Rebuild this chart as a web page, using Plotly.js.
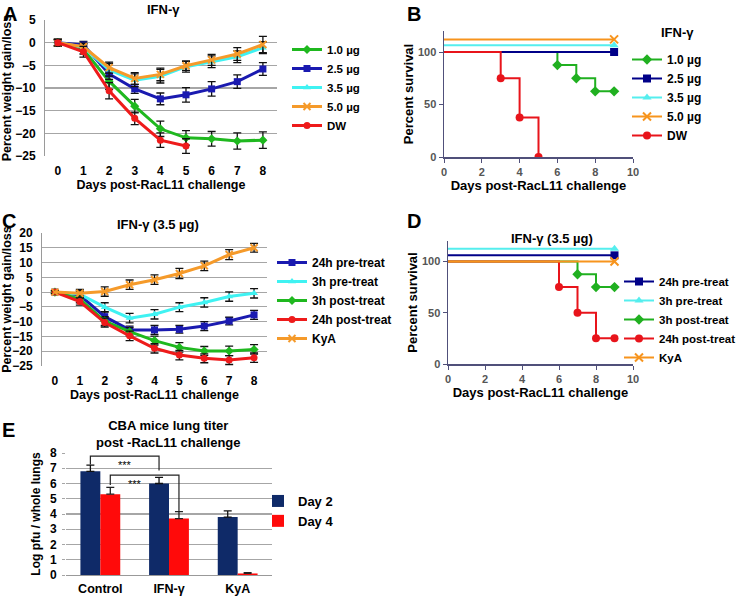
<!DOCTYPE html>
<html>
<head>
<meta charset="utf-8">
<script src="https://cdn.plot.ly/plotly-3.0.1.min.js"></script>
<style>html,body{margin:0;padding:0;background:#fff;}#chart{width:740px;height:596px;}</style>
</head>
<body>
<div id="chart"></div>
<script>
// ---------- DATA ----------
const days = [0, 1, 2, 3, 4, 5, 6, 7, 8];

// Panel A: weight change by IFN-γ dose
const aNames = ['1.0 µg', '2.5 µg', '3.5 µg', '5.0 µg', 'DW'];
const a_10 = [0, -1.5, -8.5, -14.0, -19.0, -21.0, -21.2, -21.7, -21.5];
const a_10_err = [0.7, 1.0, 1.8, 1.5, 1.7, 1.6, 1.6, 1.8, 1.8];
const a_25 = [0, -0.5, -6.9, -10.2, -12.4, -11.5, -10.2, -8.6, -5.8];
const a_25_err = [0.7, 0.8, 1.2, 1.0, 1.3, 1.6, 1.6, 1.5, 1.4];
const a_35 = [0, -1.0, -6.0, -8.3, -7.4, -5.3, -4.2, -3.1, -1.1];
const a_35_err = [0.7, 0.8, 1.4, 1.4, 1.5, 1.2, 1.3, 1.3, 1.3];
const a_50 = [0, -0.9, -5.5, -7.9, -7.0, -5.1, -3.8, -2.5, -0.4];
const a_50_err = [0.7, 0.8, 1.2, 1.3, 1.4, 1.0, 1.2, 1.4, 1.8];
const a_dw = [0, -2.0, -10.6, -16.7, -21.5, -22.8];
const a_dw_err = [0.7, 1.2, 1.8, 1.4, 1.6, 1.6];

// Panel B: survival by dose
const b10_x = [0, 6, 7, 8, 9];      const b10_y = [100, 87.5, 75, 62.5, 62.5];
const b25_x = [0, 9];               const b25_y = [100, 100];
const b35_x = [0, 9];               const b35_y = [106.5, 106.5];
const b50_x = [0, 9];               const b50_y = [112, 112];
const bdw_x = [0, 3, 4, 5];         const bdw_y = [100, 75, 37.5, 0];

// Panel C: weight change by timing (3.5 µg)
const cNames = ['24h pre-treat', '3h pre-treat', '3h post-treat', '24h post-treat', 'KyA'];
const c_24pre = [0, -1.0, -8.3, -12.8, -12.8, -12.6, -11.5, -9.8, -7.7];
const c_24pre_err = [0.5, 1.2, 1.5, 1.3, 1.5, 1.3, 1.5, 1.3, 1.5];
const c_3pre = [0, -0.7, -5.1, -8.8, -7.5, -5.1, -3.5, -1.5, -0.4];
const c_3pre_err = [0.5, 1.2, 1.5, 1.6, 1.6, 1.5, 1.6, 1.6, 1.6];
const c_3post = [0, -2.4, -9.8, -13.4, -16.4, -18.7, -19.9, -19.9, -19.4];
const c_3post_err = [0.5, 1.2, 1.5, 1.4, 1.5, 1.6, 1.5, 1.6, 1.6];
const c_24post = [0, -3.2, -10.3, -14.8, -19.0, -21.3, -22.4, -23.0, -22.2];
const c_24post_err = [0.5, 1.2, 1.5, 1.6, 1.6, 1.6, 1.5, 1.5, 1.6];
const c_kya = [0, -0.4, 0.2, 2.5, 4.2, 6.3, 8.9, 12.7, 15.0];
const c_kya_err = [0.5, 1.3, 1.6, 1.6, 1.6, 1.7, 1.6, 1.7, 1.5];

// Panel D: survival by timing
const d24pre_x = [0, 9];            const d24pre_y = [106, 106];
const d3pre_x = [0, 9];             const d3pre_y = [112.5, 112.5];
const d3post_x = [0, 7, 8, 9];      const d3post_y = [100, 87.5, 75, 75];
const d24post_x = [0, 6, 7, 8, 9];  const d24post_y = [100, 75, 50, 25, 25];
const dkya_x = [0, 9];              const dkya_y = [100, 100];

// Panel E: lung titer
const eCats = ['Control', 'IFN-γ', 'KyA'];
const eDay2 = [6.8, 6.0, 3.8];
const eDay2_err = [0.4, 0.4, 0.4];
const eDay4 = [5.3, 3.7, 0.1];
const eDay4_err = [0.45, 0.45, 0.05];

// ---------- STYLE ----------
const W = 740, H = 596;
const px = v => v / W;
const py = v => 1 - v / H;
const FONT = 'Liberation Sans, Arial, sans-serif';
const col = {green: '#1fb81f', blue: '#1a1ab0', cyan: '#3ff2f2', orange: '#f59a2a', red: '#ee1b1b'};
const scol = {green: '#20b020', blue: '#000088', cyan: '#55eeee', orange: '#f7941d', red: '#e8141b'};

function wtTrace(x, y, err, name, color, symbol, xa, ya, lg) {
  return {
    type: 'scatter', mode: 'lines+markers', x: x, y: y, name: name,
    xaxis: xa, yaxis: ya, legend: lg,
    line: {color: color, width: 3},
    marker: {color: color, symbol: symbol, size: 7,
             line: {color: color, width: symbol === 'x-thin-open' ? 2 : 0}},
    error_y: {type: 'data', array: err, visible: true, color: '#111', thickness: 1.3, width: 4}
  };
}
function survTrace(x, y, name, color, symbol, xa, ya, lg, rank) {
  // the starting point (day 0) carries no symbol
  const shown = x.map((v, i) => i).filter(i => i > 0);
  return {
    type: 'scatter', mode: 'lines+markers', x: x, y: y, name: name,
    xaxis: xa, yaxis: ya, legend: lg, legendrank: rank,
    line: {color: color, width: 2, shape: 'hv'},
    marker: {color: color, symbol: symbol, size: 8,
             line: {color: color, width: symbol === 'x-thin-open' ? 2 : 0}},
    selectedpoints: shown,
    selected: {marker: {opacity: 1}},
    unselected: {marker: {opacity: 0}}
  };
}

const data = [
  wtTrace(days, a_10, a_10_err, aNames[0], col.green, 'diamond', 'x', 'y', 'legend'),
  wtTrace(days, a_25, a_25_err, aNames[1], col.blue, 'square', 'x', 'y', 'legend'),
  wtTrace(days, a_35, a_35_err, aNames[2], col.cyan, 'triangle-up', 'x', 'y', 'legend'),
  wtTrace(days, a_50, a_50_err, aNames[3], col.orange, 'x-thin-open', 'x', 'y', 'legend'),
  wtTrace(days.slice(0, a_dw.length), a_dw, a_dw_err, aNames[4], col.red, 'circle', 'x', 'y', 'legend'),

  survTrace(b10_x, b10_y, aNames[0], scol.green, 'diamond', 'x2', 'y2', 'legend2', 1),
  survTrace(b25_x, b25_y, aNames[1], scol.blue, 'square', 'x2', 'y2', 'legend2', 2),
  survTrace(b35_x, b35_y, aNames[2], scol.cyan, 'triangle-up', 'x2', 'y2', 'legend2', 3),
  survTrace(b50_x, b50_y, aNames[3], scol.orange, 'x-thin-open', 'x2', 'y2', 'legend2', 4),
  survTrace(bdw_x, bdw_y, aNames[4], scol.red, 'circle', 'x2', 'y2', 'legend2', 5),

  wtTrace(days, c_24pre, c_24pre_err, cNames[0], col.blue, 'square', 'x3', 'y3', 'legend3'),
  wtTrace(days, c_3pre, c_3pre_err, cNames[1], col.cyan, 'triangle-up', 'x3', 'y3', 'legend3'),
  wtTrace(days, c_3post, c_3post_err, cNames[2], col.green, 'diamond', 'x3', 'y3', 'legend3'),
  wtTrace(days, c_24post, c_24post_err, cNames[3], col.red, 'circle', 'x3', 'y3', 'legend3'),
  wtTrace(days, c_kya, c_kya_err, cNames[4], col.orange, 'x-thin-open', 'x3', 'y3', 'legend3'),

  survTrace(d3post_x, d3post_y, cNames[2], scol.green, 'diamond', 'x4', 'y4', 'legend4', 3),
  survTrace(d24post_x, d24post_y, cNames[3], scol.red, 'circle', 'x4', 'y4', 'legend4', 4),
  survTrace(d24pre_x, d24pre_y, cNames[0], scol.blue, 'square', 'x4', 'y4', 'legend4', 1),
  survTrace(d3pre_x, d3pre_y, cNames[1], scol.cyan, 'triangle-up', 'x4', 'y4', 'legend4', 2),
  survTrace(dkya_x, dkya_y, cNames[4], scol.orange, 'x-thin-open', 'x4', 'y4', 'legend4', 5),

  {type: 'bar', x: eCats, y: eDay2, name: 'Day 2', xaxis: 'x5', yaxis: 'y5', legend: 'legend5',
   marker: {color: '#0f2a68'},
   error_y: {type: 'data', symmetric: false, array: eDay2_err, arrayminus: eDay2_err.map(() => 0),
             color: '#111', thickness: 1.3, width: 4}},
  {type: 'bar', x: eCats, y: eDay4, name: 'Day 4', xaxis: 'x5', yaxis: 'y5', legend: 'legend5',
   marker: {color: '#ff0a0a'},
   error_y: {type: 'data', symmetric: false, array: eDay4_err, arrayminus: eDay4_err.map(() => 0),
             color: '#222', thickness: 1.3, width: 4}}
];

const weightY = (dom, range, dtick, anchor) => ({
  domain: dom, range: range, dtick: dtick, anchor: anchor, showgrid: true, gridcolor: '#a6a6a6', gridwidth: 1.2,
  showline: true, linecolor: '#9a9a9a', zeroline: false, ticks: '', ticklabelstandoff: 6,
  tickfont: {size: 12, weight: 'bold', family: FONT},
  title: {text: 'Percent weight gain/loss', font: {size: 12.5, weight: 'bold'}, standoff: 4}
});
const weightX = (dom, range, anchor) => ({
  domain: dom, range: range, anchor: anchor, tickvals: days, showgrid: false, zeroline: false, showline: false,
  ticks: '', ticklabelstandoff: 6, tickfont: {size: 12, weight: 'bold'},
  title: {text: 'Days post-RacL11 challenge', font: {size: 12.5, weight: 'bold'}, standoff: 2}
});
const survX = (dom, anchor) => ({
  domain: dom, anchor: anchor, range: [0, 10], dtick: 2, showgrid: false, zeroline: false, showline: true,
  linecolor: '#50507a', linewidth: 1.5, ticks: 'outside', ticklen: 4, tickcolor: '#50507a',
  tickfont: {size: 11, color: '#555', weight: 'bold'},
  title: {text: 'Days post-RacL11 challenge', font: {size: 13, weight: 'bold'}, standoff: 3}
});
const survY = (dom, anchor) => ({
  domain: dom, anchor: anchor, range: [0, 120], tickvals: [0, 50, 100], showgrid: false, zeroline: false, showline: true,
  linecolor: '#50507a', linewidth: 1.5, ticks: 'outside', ticklen: 4, tickcolor: '#50507a',
  tickfont: {size: 11, color: '#555', weight: 'bold'},
  title: {text: 'Percent survival', font: {size: 13, weight: 'bold'}, standoff: 1}
});
const legBase = {bgcolor: 'rgba(0,0,0,0)', borderwidth: 0, font: {size: 12, weight: 'bold'},
                 xanchor: 'left', yanchor: 'top', tracegroupgap: 0};

// bar geometry helpers for brackets
const bargap = 0.42;
const halfBar = (1 - bargap) / 4;

const ann = (text, x, y, size, extra) => Object.assign({
  text: text, x: px(x), y: py(y), xref: 'paper', yref: 'paper', xanchor: 'center', yanchor: 'middle',
  showarrow: false, font: {size: size, weight: 'bold'}
}, extra || {});

const layout = {
  width: W, height: H, margin: {l: 0, r: 0, t: 0, b: 0, autoexpand: false},
  paper_bgcolor: '#fff', plot_bgcolor: 'rgba(0,0,0,0)',
  font: {family: FONT, color: '#000', size: 12, weight: 'bold'},
  showlegend: true,
  barmode: 'group', bargap: bargap, bargroupgap: 0,

  xaxis: weightX([px(45), px(277)], [-0.5, 8.55], 'y'),
  yaxis: weightY([py(156), py(20)], [-25, 5], 5, 'x'),

  xaxis2: survX([px(444), px(633)], 'y2'),
  yaxis2: survY([py(157), py(31)], 'x2'),

  xaxis3: weightX([px(42), px(267)], [-0.52, 8.52], 'y3'),
  yaxis3: weightY([py(366), py(233)], [-25, 20], 5, 'x3'),

  xaxis4: survX([px(448), px(633)], 'y4'),
  yaxis4: survY([py(364), py(241)], 'x4'),

  xaxis5: {domain: [px(66), px(272)], anchor: 'y5', showgrid: false, zeroline: false, showline: true, linecolor: '#999',
           ticks: '', tickfont: {size: 12.5, weight: 'bold'}, ticklabelstandoff: 2},
  yaxis5: {domain: [py(575), py(453)], anchor: 'x5', range: [0, 8], dtick: 1, showgrid: true, gridcolor: '#a6a6a6',
           gridwidth: 1.2, zeroline: false, showline: false, ticks: 'outside', ticklen: 3, tickcolor: '#a6a6a6',
           tickfont: {size: 12, weight: 'bold'}, ticklabelstandoff: 3,
           title: {text: 'Log pfu / whole lungs', font: {size: 12, weight: 'bold'}, standoff: 6}},

  legend: Object.assign({}, legBase, {x: px(287), y: py(35), font: {size: 11.5, weight: 'bold'}}),
  legend2: Object.assign({}, legBase, {x: px(627), y: py(45), font: {size: 12, weight: 'bold'}}),
  legend3: Object.assign({}, legBase, {x: px(272), y: py(248)}),
  legend4: Object.assign({}, legBase, {x: px(619), y: py(267), font: {size: 11.5, weight: 'bold'}}),
  legend5: Object.assign({}, legBase, {x: px(258), y: py(486), font: {size: 13, weight: 'bold'}}),

  shapes: [
    {type: 'path', xref: 'x5', yref: 'y5', line: {color: '#222', width: 1.2},
     path: `M ${0 - halfBar},7.25 L ${0 - halfBar},7.8 L ${1 - halfBar},7.8 L ${1 - halfBar},6.85`},
    {type: 'path', xref: 'x5', yref: 'y5', line: {color: '#222', width: 1.2},
     path: `M ${0 + halfBar},5.9 L ${0 + halfBar},6.55 L ${1 + halfBar},6.55 L ${1 + halfBar},4.15`}
  ],
  annotations: [
    ann('A', 1, 1, 20, {xanchor: 'left', yanchor: 'top'}),
    ann('B', 405, 1, 20, {xanchor: 'left', yanchor: 'top'}),
    ann('C', 0, 208, 20, {xanchor: 'left', yanchor: 'top'}),
    ann('D', 405, 208, 20, {xanchor: 'left', yanchor: 'top'}),
    ann('E', 0, 417, 20, {xanchor: 'left', yanchor: 'top'}),
    ann('IFN-γ', 163, 9, 13),
    ann('IFN-γ', 677, 32, 13),
    ann('IFN-γ (3.5 µg)', 158, 224, 13),
    ann('IFN-γ (3.5 µg)', 552, 238, 13),
    ann('CBA mice lung titer<br>post -RacL11 challenge', 168, 434, 13),
    {text: '***', x: 0.5 - halfBar, y: 7.8, xref: 'x5', yref: 'y5', yanchor: 'top', xanchor: 'center', showarrow: false,
     font: {size: 11, weight: 'normal'}, yshift: -1},
    {text: '***', x: 0.5 + halfBar, y: 6.55, xref: 'x5', yref: 'y5', yanchor: 'top', xanchor: 'center', showarrow: false,
     font: {size: 11, weight: 'normal'}, xshift: -10, yshift: -1}
  ]
};

Plotly.newPlot('chart', data, layout, {displayModeBar: false, staticPlot: true});
</script>
</body>
</html>
